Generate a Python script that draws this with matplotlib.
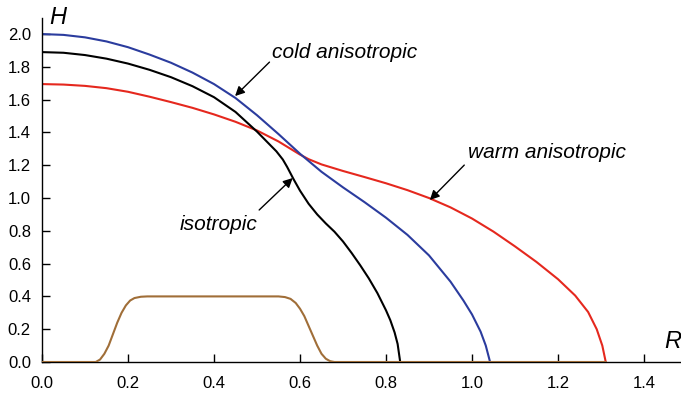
import matplotlib
matplotlib.use("Agg")
import matplotlib.pyplot as plt

plt.rcParams['font.family'] = ['Liberation Sans', 'DejaVu Sans']

# cold anisotropic (blue)
r_cold = [0.0, 0.05, 0.1, 0.15, 0.2, 0.25, 0.3, 0.35, 0.4, 0.45, 0.5, 0.55, 0.6, 0.65,
          0.7, 0.75, 0.8, 0.85, 0.9, 0.95, 0.98, 1.0, 1.02, 1.032, 1.042]
h_cold = [2.0, 1.995, 1.98, 1.955, 1.92, 1.875, 1.825, 1.765, 1.695, 1.61, 1.505, 1.39, 1.27, 1.16,
          1.065, 0.975, 0.88, 0.775, 0.65, 0.49, 0.375, 0.29, 0.185, 0.10, 0.0]

# isotropic (black)
r_iso = [0.0, 0.05, 0.1, 0.15, 0.2, 0.25, 0.3, 0.35, 0.4, 0.45, 0.5, 0.53, 0.545, 0.56, 0.57, 0.585,
         0.6, 0.62, 0.64, 0.66, 0.68, 0.7, 0.72, 0.74, 0.76, 0.78, 0.8, 0.81, 0.82, 0.827, 0.833]
h_iso = [1.89, 1.886, 1.872, 1.85, 1.82, 1.782, 1.737, 1.682, 1.615, 1.525, 1.405, 1.325, 1.285, 1.235, 1.19, 1.115,
         1.045, 0.965, 0.90, 0.845, 0.795, 0.735, 0.665, 0.59, 0.51, 0.42, 0.315, 0.255, 0.18, 0.11, 0.0]

# warm anisotropic (red)
r_warm = [0.0, 0.05, 0.1, 0.15, 0.2, 0.25, 0.3, 0.35, 0.4, 0.45, 0.5, 0.55, 0.6, 0.62, 0.65,
          0.7, 0.75, 0.8, 0.85, 0.9, 0.95, 1.0, 1.05, 1.1, 1.15, 1.2, 1.24, 1.27, 1.29, 1.303, 1.311]
h_warm = [1.695, 1.692, 1.684, 1.67, 1.648, 1.618, 1.585, 1.55, 1.51, 1.465, 1.412, 1.345, 1.265, 1.237, 1.205,
          1.165, 1.128, 1.09, 1.048, 1.0, 0.943, 0.875, 0.795, 0.705, 0.61, 0.505, 0.405, 0.305, 0.2, 0.1, 0.0]

# brown step profile
r_step = [0.0, 0.125, 0.135, 0.145, 0.155, 0.165, 0.175, 0.185, 0.195, 0.205, 0.215, 0.23, 0.245,
          0.55, 0.565, 0.578, 0.59, 0.6, 0.61, 0.62, 0.63, 0.64, 0.65, 0.66, 0.67, 0.68, 1.311]
h_step = [0.0, 0.0, 0.015, 0.05, 0.1, 0.17, 0.24, 0.3, 0.345, 0.375, 0.39, 0.398, 0.4,
          0.4, 0.396, 0.385, 0.36, 0.325, 0.28, 0.22, 0.16, 0.1, 0.05, 0.02, 0.005, 0.0, 0.0]

x_ticks = [0.0, 0.2, 0.4, 0.6, 0.8, 1.0, 1.2, 1.4]
y_ticks = [0.0, 0.2, 0.4, 0.6, 0.8, 1.0, 1.2, 1.4, 1.6, 1.8, 2.0]

fig = plt.figure(figsize=(6.81, 3.95), dpi=100)
ax = fig.add_axes([42 / 681, 33 / 395, 639 / 681, 344 / 395])

lw = 1.5
style = dict(lw=lw, solid_joinstyle="round", solid_capstyle="round")
ax.plot(r_step, h_step, color="#a06e38", zorder=3, **style)
ax.plot(r_warm, h_warm, color="#e5281e", **style)
ax.plot(r_cold, h_cold, color="#2b3c9e", **style)
ax.plot(r_iso, h_iso, color="black", **style)

ax.set_xlim(0, 1.486)
ax.set_ylim(0, 2.098)
ax.spines['top'].set_visible(False)
ax.spines['right'].set_visible(False)
ax.spines['left'].set_linewidth(1.0)
ax.spines['bottom'].set_linewidth(1.0)
ax.set_xticks(x_ticks)
ax.set_yticks(y_ticks)
ax.set_xticklabels([f"{v:.1f}" for v in x_ticks])
ax.set_yticklabels([f"{v:.1f}" for v in y_ticks])
ax.tick_params(direction="in", length=6, width=1.0, labelsize=12)
ax.tick_params(axis="x", pad=10)
ax.tick_params(axis="y", pad=8)

ax.text(0.037, 2.104, "H", fontsize=17, style="italic", va="center", ha="center")
ax.text(1.467, 0.122, "R", fontsize=17, style="italic", va="center", ha="center")

arrow = dict(arrowstyle="-|>", color="black", lw=1.0, mutation_scale=14, shrinkA=0, shrinkB=0)
ax.annotate("", xy=(0.449, 1.622), xytext=(0.529, 1.829), arrowprops=arrow)
ax.text(0.535, 1.89, "cold anisotropic", fontsize=15, style="italic", va="center", ha="left")

ax.annotate("", xy=(0.583, 1.122), xytext=(0.505, 0.927), arrowprops=arrow)
ax.text(0.319, 0.841, "isotropic", fontsize=15, style="italic", va="center", ha="left")

ax.annotate("", xy=(0.902, 0.988), xytext=(0.982, 1.201), arrowprops=arrow)
ax.text(0.991, 1.279, "warm anisotropic", fontsize=15, style="italic", va="center", ha="left")

fig.savefig("out.png", dpi=100)
